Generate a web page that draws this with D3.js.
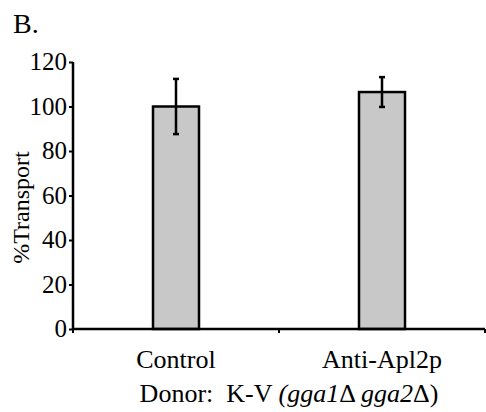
<!DOCTYPE html>
<html>
<head>
<meta charset="utf-8">
<script src="https://cdn.jsdelivr.net/npm/d3@7"></script>
<style>
  body { margin: 0; background: #fff; }
  svg { display: block; }
  svg text { font-family: "Liberation Serif", "Times New Roman", serif; fill: #000; }
</style>
</head>
<body>
<svg id="chart" width="486" height="412"></svg>
<script>
const categories = ["Control", "Anti-Apl2p"];
const values = [100, 106.5];
const errors = [12.4, 6.7];
const yTicks = [0, 20, 40, 60, 80, 100, 120];

const svg = d3.select("#chart");
const margin = {left: 73, right: 1, top: 62, bottom: 83};
const W = 486, H = 412;

const x = d3.scaleBand().domain(categories)
  .range([margin.left, W - margin.right])
  .paddingInner(0).paddingOuter(0);
const y = d3.scaleLinear().domain([0, 120]).range([H - margin.bottom, margin.top]);

const barW = 46;

// panel label
svg.append("text").attr("x", 13).attr("y", 33)
  .style("font-size", "28px").text("B.");

// bars
svg.selectAll("rect.bar").data(values).enter().append("rect")
  .attr("class", "bar")
  .attr("x", (d, i) => x(categories[i]) + x.bandwidth() / 2 - barW / 2)
  .attr("width", barW)
  .attr("y", d => y(d))
  .attr("height", d => y(0) - y(d))
  .attr("fill", "#c8c8c8")
  .attr("stroke", "#000")
  .attr("stroke-width", 2.5);

// error bars
const eb = svg.selectAll("g.err").data(values).enter().append("g")
  .attr("class", "err")
  .attr("transform", (d, i) => `translate(${x(categories[i]) + x.bandwidth() / 2},0)`);
eb.append("line")
  .attr("y1", (d, i) => y(d + errors[i])).attr("y2", (d, i) => y(d - errors[i]))
  .attr("stroke", "#000").attr("stroke-width", 2.5);
eb.selectAll("line.cap").data((d, i) => [d + errors[i], d - errors[i]]).enter().append("line")
  .attr("class", "cap")
  .attr("x1", -3).attr("x2", 3)
  .attr("y1", d => y(d)).attr("y2", d => y(d))
  .attr("stroke", "#000").attr("stroke-width", 2.5);

// y axis
const yAxis = svg.append("g").attr("transform", `translate(${margin.left},0)`)
  .call(d3.axisLeft(y).tickValues(yTicks).tickSize(4).tickPadding(2));
yAxis.attr("font-family", null);
yAxis.select(".domain").attr("stroke-width", 2.5).attr("d", `M0,${y(120)}V${y(0)}`);
yAxis.selectAll(".tick line").attr("stroke-width", 2);
yAxis.selectAll(".tick text")
  .style("font-size", "25px").attr("dy", "0.3em");

// x axis with ticks at band boundaries
const xAxisG = svg.append("g").attr("transform", `translate(0,${y(0)})`);
xAxisG.append("line")
  .attr("x1", margin.left).attr("x2", W - margin.right)
  .attr("stroke", "#000").attr("stroke-width", 2.5);
const bounds = [x(categories[0]), x(categories[1]), x(categories[1]) + x.bandwidth()];
xAxisG.selectAll("line.xt").data(bounds).enter().append("line")
  .attr("class", "xt")
  .attr("x1", d => d).attr("x2", d => d)
  .attr("y1", 0).attr("y2", 4)
  .attr("stroke", "#000").attr("stroke-width", 2);
xAxisG.selectAll("text.cat").data(categories).enter().append("text")
  .attr("class", "cat")
  .attr("x", d => x(d) + x.bandwidth() / 2)
  .attr("y", 39)
  .attr("text-anchor", "middle")
  .style("font-size", "26px")
  .text(d => d);

// x title
const xt = svg.append("text").attr("x", 289).attr("y", 402)
  .attr("text-anchor", "middle").style("font-size", "26px");
xt.append("tspan").text("Donor:\u00a0 K-V ");
xt.append("tspan").style("font-style", "italic").text("(gga1");
xt.append("tspan").text("\u0394 ");
xt.append("tspan").style("font-style", "italic").text("gga2");
xt.append("tspan").text("\u0394)");

// y title
svg.append("text")
  .attr("transform", `translate(29,${(y(0) + y(120)) / 2 + 12}) rotate(-90)`)
  .attr("text-anchor", "middle")
  .style("font-size", "24px")
  .text("%Transport");
</script>
</body>
</html>
